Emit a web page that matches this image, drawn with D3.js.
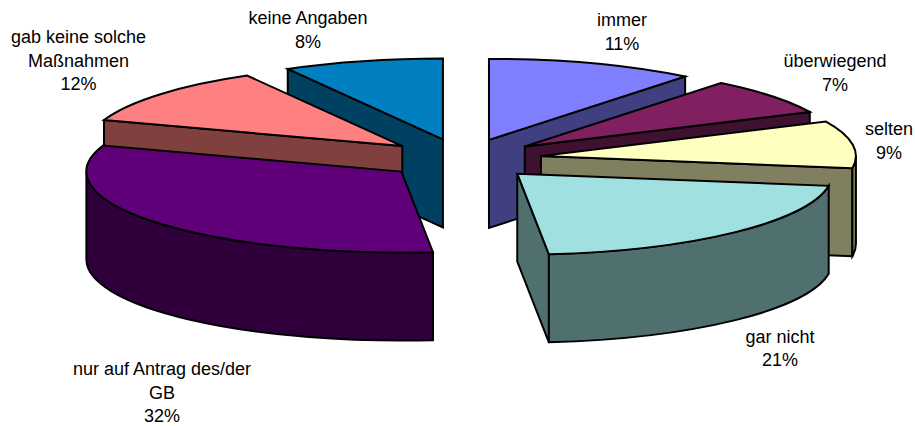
<!DOCTYPE html>
<html>
<head>
<meta charset="utf-8">
<script src="https://cdnjs.cloudflare.com/ajax/libs/d3/7.9.0/d3.min.js"></script>
<style>
html,body{margin:0;padding:0;background:#fff;}
svg{display:block;}
text{font-family:"Liberation Sans",Arial,sans-serif;font-size:18px;fill:#000;text-anchor:middle;}
</style>
</head>
<body>
<svg id="chart" width="915" height="426"></svg>
<script>
const categories = ["immer","überwiegend","selten","gar nicht","nur auf Antrag des/der GB","gab keine solche Maßnahmen","keine Angaben"];
const values = [10.7,7.3,9.4,21.0,31.8,11.6,8.2];
const labelLines = [["immer"],["überwiegend"],["selten"],["gar nicht"],["nur auf Antrag des/der","GB"],["gab keine solche","Maßnahmen"],["keine Angaben"]];
const topColors = ["#8080FF","#802060","#FFFFC0","#A0E0E0","#5F0079","#FF8080","#0080C0"];
const sideColors = ["#404080","#401030","#808060","#507070","#2F003C","#804040","#004060"];
const labelCenters = [[622,26],[835,67],[889,135],[780,342.5],[162,375],[78.5,43],[308,24]];

const W = 915, H = 426;
const cx = 463, cy = 159, rx = 315, ry = 81, depth = 88, explode = 0.25, lineH = 23.7;

const x = d3.scaleLinear().domain([-1,1]).range([cx-rx,cx+rx]);
const y = d3.scaleLinear().domain([-1,1]).range([cy+ry,cy-ry]);
const svg = d3.select("#chart");

const arcs = d3.pie().sort(null)(values).map((d,i)=>({...d,i,mid:(d.startAngle+d.endAngle)/2}));

function pt(d,theta,r=1){
  return [x(explode*Math.sin(d.mid)+r*Math.sin(theta)), y(explode*Math.cos(d.mid)+r*Math.cos(theta))];
}
function radialWall(d,theta){
  const a=pt(d,theta,0), b=pt(d,theta);
  return `M${a}L${b}L${b[0]},${b[1]+depth}L${a[0]},${a[1]+depth}Z`;
}
function outerWall(d){
  const s=Math.max(d.startAngle,Math.PI/2), e=Math.min(d.endAngle,3*Math.PI/2);
  if(s>=e) return null;
  const a=pt(d,s), b=pt(d,e);
  return `M${a}A${rx},${ry} 0 0 1 ${b}L${b[0]},${b[1]+depth}A${rx},${ry} 0 0 0 ${a[0]},${a[1]+depth}Z`;
}
function topFace(d){
  const o=pt(d,0,0), a=pt(d,d.startAngle), b=pt(d,d.endAngle);
  const large=(d.endAngle-d.startAngle)>Math.PI?1:0;
  return `M${o}L${a}A${rx},${ry} 0 ${large} 1 ${b}Z`;
}

const order = arcs.slice().sort((p,q)=>Math.cos(q.mid)-Math.cos(p.mid));
const slices = svg.selectAll("g.slice").data(order).join("g").attr("class","slice")
  .attr("stroke","#000").attr("stroke-width",2).attr("stroke-linejoin","miter");

slices.each(function(d){
  const g=d3.select(this);
  const walls=[];
  if(d.startAngle>Math.PI) walls.push(radialWall(d,d.startAngle));
  if(d.endAngle<Math.PI) walls.push(radialWall(d,d.endAngle));
  const ow=outerWall(d);
  if(ow) walls.push(ow);
  walls.forEach(w=>g.append("path").attr("d",w).attr("fill",sideColors[d.i]));
  g.append("path").attr("d",topFace(d)).attr("fill",topColors[d.i]);
});

const pct = d3.format(".0f");
const labels = svg.selectAll("text.lab").data(arcs).join("text").attr("class","lab")
  .attr("x",d=>labelCenters[d.i][0]).attr("y",d=>labelCenters[d.i][1]);
labels.each(function(d){
  const t=d3.select(this), cxl=labelCenters[d.i][0];
  labelLines[d.i].concat([pct(d.value)+"%"]).forEach((s,k)=>{
    t.append("tspan").attr("x",cxl).attr("dy",k?lineH:0).text(s);
  });
});
</script>
</body>
</html>
